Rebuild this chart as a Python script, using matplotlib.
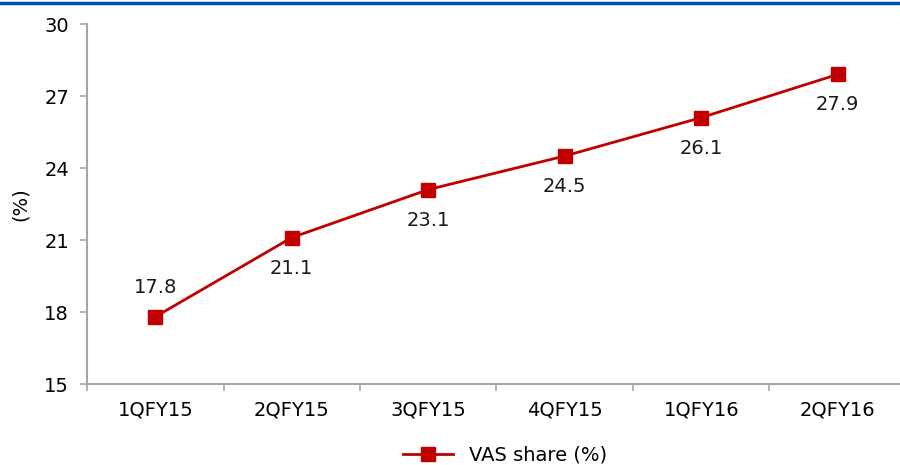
import matplotlib.pyplot as plt
from matplotlib.lines import Line2D

quarters = ["1QFY15", "2QFY15", "3QFY15", "4QFY15", "1QFY16", "2QFY16"]
vas_share = [17.8, 21.1, 23.1, 24.5, 26.1, 27.9]
yticks = [15, 18, 21, 24, 27, 30]

plt.rcParams["font.family"] = ["DejaVu Sans"]
plt.rcParams["font.size"] = 14

fig = plt.figure(figsize=(9, 4.65), dpi=100)
ax = fig.add_axes([87 / 900, 1 - 384 / 465, 819 / 900, 360 / 465])

x = list(range(len(quarters)))
ax.plot(x, vas_share, color="#C00000", lw=2, marker="s", ms=10.5,
        label="VAS share (%)")

for i, v in enumerate(vas_share):
    dy = 21 if i == 0 else -22
    ax.annotate(f"{v:.1f}", (i, v), xytext=(0, dy), textcoords="offset points",
                ha="center", va="center", color="#1a1a1a")

ax.set_xlim(-0.5, len(quarters) - 0.5)
ax.set_ylim(15, 30)
ax.set_yticks(yticks)
ax.set_xticks(x)
ax.set_xticklabels(quarters)
ax.set_xticks([i - 0.5 for i in range(len(quarters) + 1)], minor=True)
ax.tick_params(axis="x", which="major", length=0, pad=12)
ax.tick_params(axis="x", which="minor", length=5, color="#a6a6a6", width=1.2)
ax.tick_params(axis="y", length=5, color="#a6a6a6", width=1.2, pad=8)
ax.set_ylabel("(%)", labelpad=10)

for s in ["top", "right"]:
    ax.spines[s].set_visible(False)
for s in ["left", "bottom"]:
    ax.spines[s].set_color("#a6a6a6")
    ax.spines[s].set_linewidth(1.5)

fig.legend(*ax.get_legend_handles_labels(), loc="center",
           bbox_to_anchor=(505 / 900, 10 / 465), frameon=False,
           handlelength=2.6, borderaxespad=0, borderpad=0)

fig.add_artist(Line2D([0, 1], [1 - 3 / 465, 1 - 3 / 465], color="#0050A8",
                      lw=2.5, transform=fig.transFigure))

fig.savefig("out.png", dpi=100)
